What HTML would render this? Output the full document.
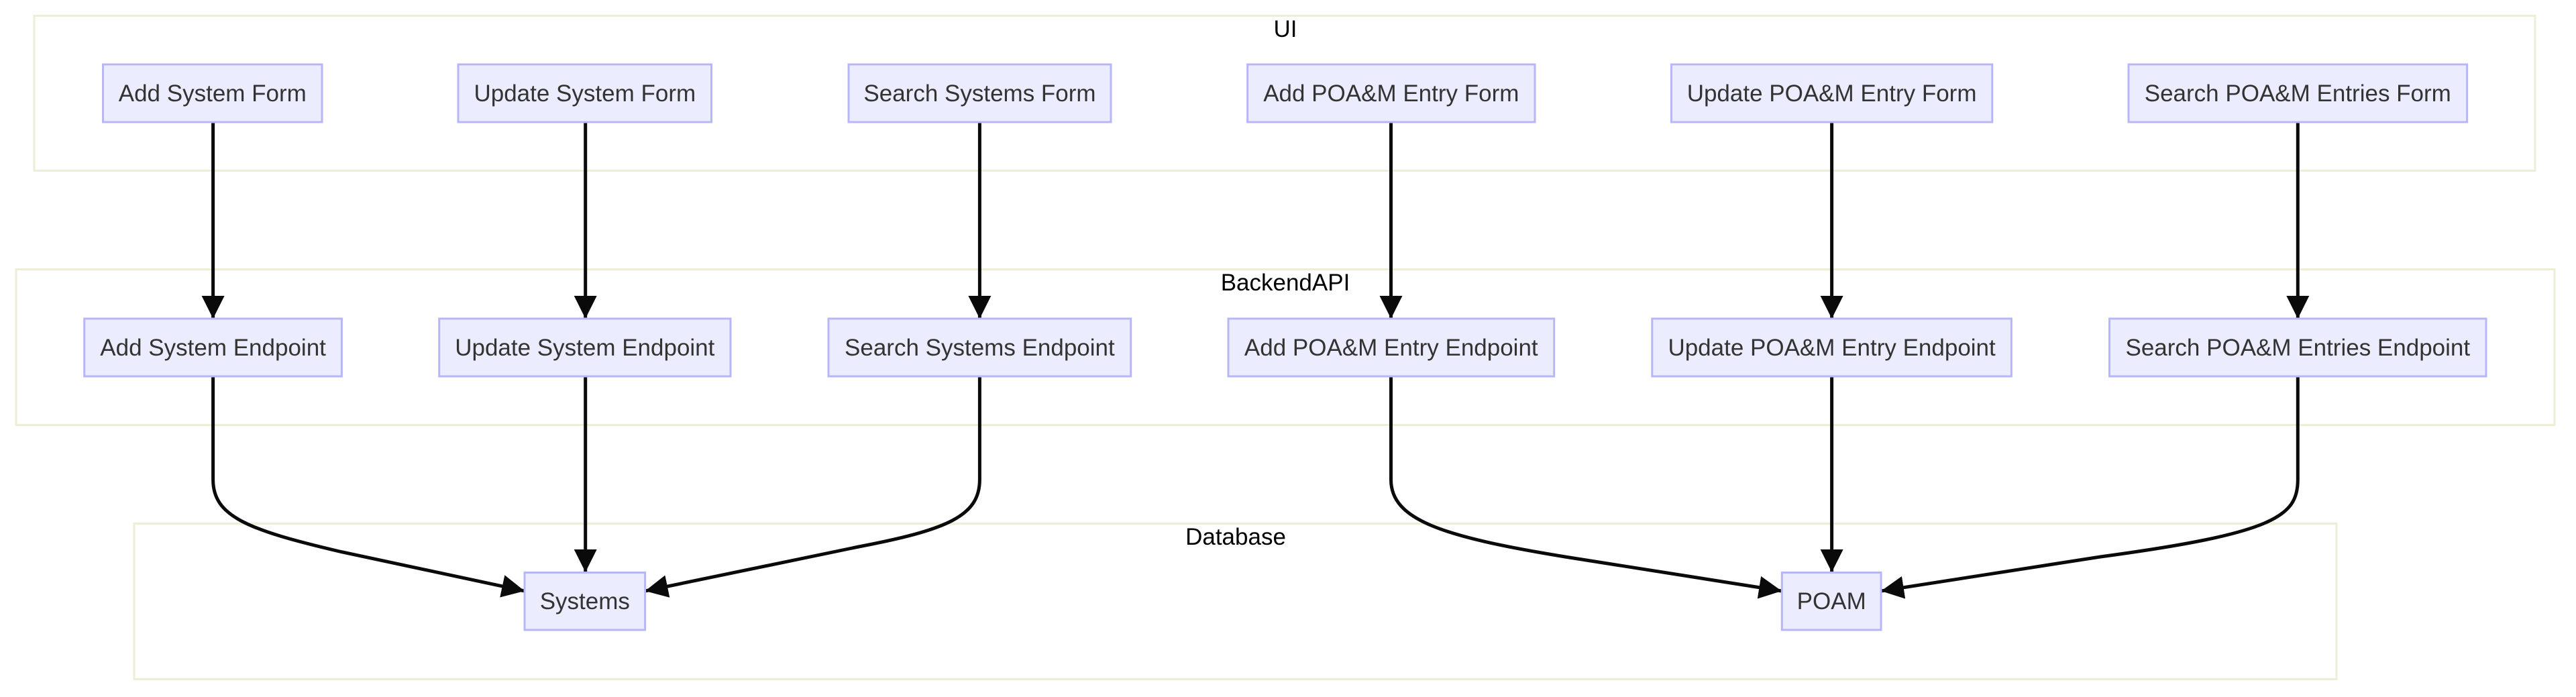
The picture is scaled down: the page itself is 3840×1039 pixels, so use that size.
<!DOCTYPE html>
<html><head><meta charset="utf-8"><style>
html,body{margin:0;padding:0;background:#fff;}
svg{display:block;}
text{font-family:"Liberation Sans",Arial,sans-serif;}
</style></head><body>
<svg width="3840" height="1039" viewBox="0 0 3840 1039" xmlns="http://www.w3.org/2000/svg">
<defs>
<marker id="ah" markerUnits="userSpaceOnUse" markerWidth="36" markerHeight="36" refX="34" refY="17" orient="auto">
<path d="M0,0 L34,17 L0,34 z" fill="#0a0a0a"/>
</marker>
</defs>
<g fill="#ffffff" stroke="#eeeed6" stroke-width="3">
<rect x="51" y="23.5" width="3728" height="231"/>
<rect x="24" y="401.5" width="3784" height="232"/>
<rect x="200" y="780.5" width="3283" height="232"/>
</g>
<g font-size="35" fill="#000" text-anchor="middle">
<text x="1916" y="55">UI</text>
<text x="1916" y="433">BackendAPI</text>
<text x="1842" y="812">Database</text>
</g>
<g fill="none" stroke="#0a0a0a" stroke-width="5" marker-end="url(#ah)">
<path d="M317.6 183 L317.6 475"/>
<path d="M872.7 183 L872.7 475"/>
<path d="M1460.4 183 L1460.4 475"/>
<path d="M2073.5 183 L2073.5 475"/>
<path d="M2730.6 183 L2730.6 475"/>
<path d="M3425.3 183 L3425.3 475"/>
<path d="M872.7 561 L872.7 853"/>
<path d="M2730.6 561 L2730.6 853"/>
<path d="M317.6 561 L317.6 715 C317.6 770 370 790 506 822 L782 881"/>
<path d="M1460.4 561 L1460.4 715 C1460.4 770 1410 790 1280 815 L961.6 881"/>
<path d="M2073.5 561 L2073.5 715 C2073.5 775 2150 800 2333 830 L2656 881"/>
<path d="M3425.3 561 L3425.3 715 C3425.3 770 3390 795 3131 830 L2804 881"/>
</g>
<g fill="#ececff" stroke="#b7b7f7" stroke-width="3">
<rect x="153.5" y="96" width="326.5" height="86"/>
<rect x="683" y="96" width="377.5" height="86"/>
<rect x="1265" y="96" width="391" height="86"/>
<rect x="1859.6" y="96" width="428.4" height="86"/>
<rect x="2491.4" y="96" width="478.4" height="86"/>
<rect x="3173" y="96" width="504.6" height="86"/>
<rect x="125.7" y="475" width="383.7" height="86"/>
<rect x="654.7" y="475" width="434.3" height="86"/>
<rect x="1235" y="475" width="450.7" height="86"/>
<rect x="1831" y="475" width="485.7" height="86"/>
<rect x="2462.8" y="475" width="535.6" height="86"/>
<rect x="3144.5" y="475" width="561.5" height="86"/>
<rect x="782" y="853.5" width="179.6" height="85.5"/>
<rect x="2656.3" y="853.5" width="147.7" height="85.5"/>
</g>
<g font-size="35" fill="#333" text-anchor="middle">
<text x="316.8" y="151">Add System Form</text>
<text x="871.8" y="151">Update System Form</text>
<text x="1460.5" y="151">Search Systems Form</text>
<text x="2073.8" y="151">Add POA&amp;M Entry Form</text>
<text x="2730.6" y="151">Update POA&amp;M Entry Form</text>
<text x="3425.3" y="151">Search POA&amp;M Entries Form</text>
<text x="317.6" y="530">Add System Endpoint</text>
<text x="871.8" y="530">Update System Endpoint</text>
<text x="1460.4" y="530">Search Systems Endpoint</text>
<text x="2073.8" y="530">Add POA&amp;M Entry Endpoint</text>
<text x="2730.6" y="530">Update POA&amp;M Entry Endpoint</text>
<text x="3425.3" y="530">Search POA&amp;M Entries Endpoint</text>
<text x="871.8" y="908">Systems</text>
<text x="2730.2" y="908">POAM</text>
</g>
</svg>
</body></html>
